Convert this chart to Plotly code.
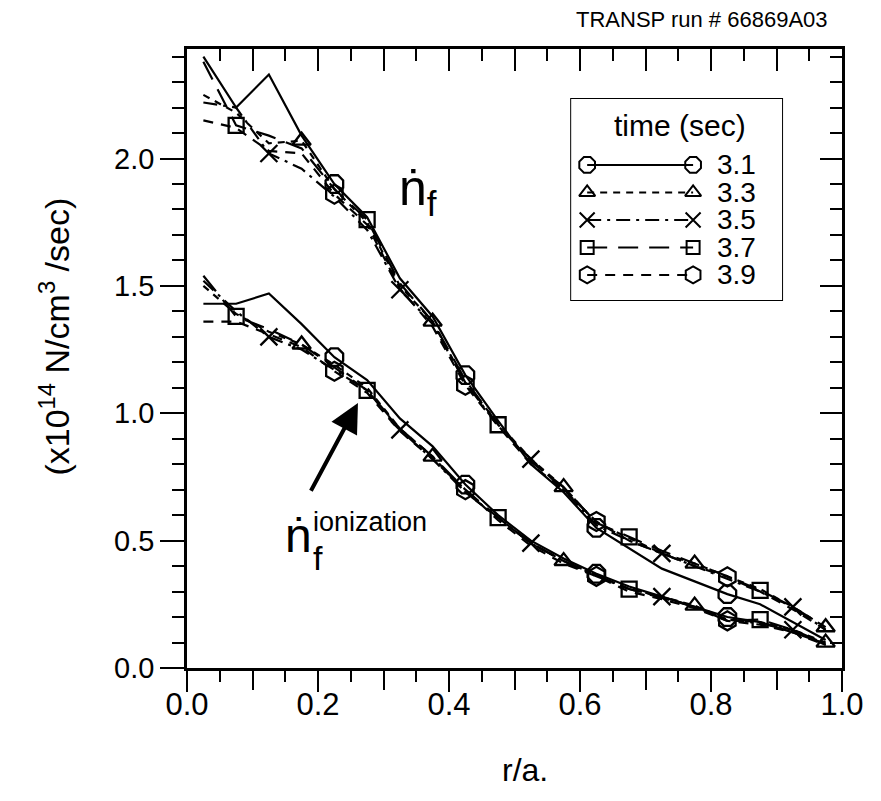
import plotly.graph_objects as go

# ---------------- data ----------------
r_over_a = [0.025, 0.075, 0.125, 0.175, 0.225, 0.275, 0.325, 0.375, 0.425, 0.475,
            0.525, 0.575, 0.625, 0.675, 0.725, 0.775, 0.825, 0.875, 0.925, 0.975]

times = ["3.1", "3.3", "3.5", "3.7", "3.9"]

# total fueling rate n_f  (x1e14 N/cm^3/sec)
nf_31 = [2.40, 2.20, 2.33, 2.09, 1.90, 1.77, 1.53, 1.38, 1.15, 0.97,
         0.80, 0.69, 0.55, 0.47, 0.39, 0.34, 0.29, 0.25, 0.18, 0.11]
nf_33 = [2.25, 2.18, 2.06, 2.07, 1.88, 1.75, 1.50, 1.36, 1.12, 0.96,
         0.82, 0.71, 0.57, 0.51, 0.45, 0.41, 0.36, 0.31, 0.24, 0.16]
nf_35 = [2.22, 2.20, 2.02, 1.96, 1.85, 1.72, 1.485, 1.35, 1.12, 0.95,
         0.82, 0.70, 0.56, 0.50, 0.45, 0.40, 0.35, 0.30, 0.24, 0.15]
nf_37 = [2.38, 2.13, 2.09, 2.04, 1.88, 1.76, 1.51, 1.36, 1.13, 0.955,
         0.81, 0.71, 0.57, 0.515, 0.46, 0.41, 0.36, 0.305, 0.24, 0.16]
nf_39 = [2.15, 2.12, 2.03, 2.02, 1.86, 1.74, 1.49, 1.34, 1.11, 0.95,
         0.80, 0.70, 0.575, 0.50, 0.45, 0.40, 0.358, 0.30, 0.23, 0.15]

# ionization part of n_f
ion_31 = [1.43, 1.43, 1.47, 1.35, 1.22, 1.13, 0.98, 0.87, 0.72, 0.60,
          0.50, 0.43, 0.37, 0.32, 0.28, 0.24, 0.20, 0.18, 0.14, 0.095]
ion_33 = [1.50, 1.39, 1.32, 1.27, 1.19, 1.10, 0.94, 0.83, 0.69, 0.59,
          0.49, 0.42, 0.365, 0.31, 0.28, 0.245, 0.19, 0.18, 0.15, 0.10]
ion_35 = [1.52, 1.40, 1.30, 1.25, 1.17, 1.09, 0.935, 0.82, 0.69, 0.59,
          0.49, 0.42, 0.36, 0.31, 0.28, 0.24, 0.19, 0.175, 0.15, 0.09]
ion_37 = [1.54, 1.38, 1.33, 1.27, 1.18, 1.09, 0.94, 0.83, 0.70, 0.59,
          0.49, 0.42, 0.365, 0.31, 0.275, 0.24, 0.185, 0.19, 0.15, 0.095]
ion_39 = [1.36, 1.36, 1.31, 1.26, 1.165, 1.08, 0.93, 0.82, 0.70, 0.58,
          0.48, 0.41, 0.36, 0.30, 0.27, 0.235, 0.185, 0.17, 0.14, 0.09]

x_label_vals = [0.0, 0.2, 0.4, 0.6, 0.8, 1.0]
x_label_text = ["0.0", "0.2", "0.4", "0.6", "0.8", "1.0"]
x_mid_vals = [0.1, 0.3, 0.5, 0.7, 0.9]
x_all_vals = [0.0, 0.1, 0.2, 0.3, 0.4, 0.5, 0.6, 0.7, 0.8, 0.9, 1.0]
y_tickvals = [0.0, 0.5, 1.0, 1.5, 2.0]
y_ticktext = ["0.0", "0.5", "1.0", "1.5", "2.0"]

# ---------------- styles ----------------
styles = {
    "3.1": dict(dash="solid", symbol="octagon-open", size=19, start=4),
    "3.3": dict(dash="7px,6px", symbol="triangle-up-open", size=16, start=3),
    "3.5": dict(dash="14px,6px,3px,6px", symbol="x-thin-open", size=17, start=2),
    "3.7": dict(dash="20px,11px", symbol="square-open", size=15, start=1),
    "3.9": dict(dash="10px,8px", symbol="hexagon-open", size=19, start=4),
}

groups = [
    dict(zip(times, [nf_31, nf_33, nf_35, nf_37, nf_39])),
    dict(zip(times, [ion_31, ion_33, ion_35, ion_37, ion_39])),
]

fig = go.Figure()
for grp in groups:
    for t in times:
        st = styles[t]
        ys = grp[t]
        fig.add_trace(go.Scatter(
            x=r_over_a, y=ys, mode="lines", showlegend=False,
            line=dict(color="black", width=2.2, dash=st["dash"]),
            hoverinfo="skip"))
        idx = list(range(st["start"], len(r_over_a), 4))
        fig.add_trace(go.Scatter(
            x=[r_over_a[i] for i in idx], y=[ys[i] for i in idx],
            mode="markers", showlegend=False,
            marker=dict(symbol=st["symbol"], size=st["size"], color="black",
                        line=dict(color="black", width=2.3)),
            hoverinfo="skip"))

# empty traces so the extra (mirror) axes exist
fig.add_trace(go.Scatter(x=[], y=[], xaxis="x2", yaxis="y2", showlegend=False))
fig.add_trace(go.Scatter(x=[], y=[], xaxis="x4", yaxis="y", showlegend=False))

# ---------------- custom legend (own little axes, pixel-like units) ----------------
LW, LH = 213, 203
row_y0, row_dy = 67, 27.5
for i, t in enumerate(times):
    st = styles[t]
    yy = row_y0 + i * row_dy
    fig.add_trace(go.Scatter(
        x=[17, 123], y=[yy, yy], xaxis="x3", yaxis="y3", mode="lines+markers",
        showlegend=False, hoverinfo="skip",
        line=dict(color="black", width=2, dash=st["dash"]),
        marker=dict(symbol=st["symbol"], size=st["size"] - 2, color="black",
                    line=dict(color="black", width=2))))
    fig.add_annotation(x=145, y=yy, xref="x3", yref="y3", text=t, showarrow=False,
                       xanchor="left", yanchor="middle",
                       font=dict(size=28, color="black", family="Liberation Sans, Arial"))
fig.add_annotation(x=LW / 2 + 3, y=28, xref="x3", yref="y3", text="time (sec)",
                   showarrow=False, xanchor="center", yanchor="middle",
                   font=dict(size=30, color="black", family="Liberation Sans, Arial"))
fig.add_shape(type="rect", xref="x3", yref="y3", x0=0, x1=LW, y0=0, y1=LH,
              line=dict(color="black", width=2))

FONT = "Liberation Sans, Arial, sans-serif"

TK = dict(tickwidth=2, tickcolor="black")
fig.update_layout(
    width=881, height=801, autosize=False,
    margin=dict(l=187, r=39, t=49, b=133),
    paper_bgcolor="white", plot_bgcolor="white",
    font=dict(family=FONT, color="black"),
    # bottom axis: labelled ticks every 0.2, minor every 0.05
    xaxis=dict(range=[0, 1], tickmode="array", tickvals=x_label_vals, ticktext=x_label_text,
               ticks="outside", ticklen=21, **TK,
               minor=dict(dtick=0.05, tick0=0, ticks="outside", ticklen=11, **TK),
               showline=True, linewidth=2.5, linecolor="black",
               showgrid=False, zeroline=False,
               tickfont=dict(size=31, family=FONT), ticklabelstandoff=-14),
    # bottom axis: long unlabelled ticks at the odd tenths
    xaxis4=dict(range=[0, 1], overlaying="x", side="bottom", anchor="y",
                tickmode="array", tickvals=x_mid_vals, showticklabels=False,
                ticks="outside", ticklen=21, **TK, showline=False,
                showgrid=False, zeroline=False),
    # top mirror axis
    xaxis2=dict(range=[0, 1], overlaying="x", side="top", anchor="y",
                tickmode="array", tickvals=x_all_vals, showticklabels=False,
                ticks="inside", ticklen=22, **TK,
                minor=dict(dtick=0.05, tick0=0, ticks="inside", ticklen=12, **TK),
                showline=True, linewidth=2.5, linecolor="black",
                showgrid=False, zeroline=False),
    yaxis=dict(range=[0, 2.43], tickmode="array", tickvals=y_tickvals, ticktext=y_ticktext,
               ticks="outside", ticklen=24, **TK,
               minor=dict(dtick=0.1, tick0=0, ticks="outside", ticklen=12, **TK),
               showline=True, linewidth=2.5, linecolor="black",
               showgrid=False, zeroline=False,
               tickfont=dict(size=29, family=FONT)),
    yaxis2=dict(range=[0, 2.43], overlaying="y", side="right", anchor="x",
                tickmode="array", tickvals=y_tickvals, showticklabels=False,
                ticks="inside", ticklen=22, **TK,
                minor=dict(dtick=0.1, tick0=0, ticks="inside", ticklen=12, **TK),
                showline=True, linewidth=2.5, linecolor="black",
                showgrid=False, zeroline=False),
    xaxis3=dict(domain=[0.585, 0.910], range=[0, LW], anchor="y3", visible=False,
                fixedrange=True),
    yaxis3=dict(domain=[0.593, 0.921], range=[LH, 0], anchor="x3", visible=False,
                fixedrange=True),
)

# ---------------- text annotations ----------------
fig.add_annotation(xref="paper", yref="paper", x=0.982, y=1.047,
                   text="TRANSP run # 66869A03", showarrow=False,
                   xanchor="right", yanchor="middle",
                   font=dict(size=22, family=FONT))
fig.add_annotation(xref="paper", yref="paper", x=-0.202, y=0.535,
                   text="(x10<sup>14</sup> N/cm<sup>3</sup> /sec)", showarrow=False,
                   textangle=-90, xanchor="center", yanchor="middle",
                   font=dict(size=34, family=FONT))
fig.add_annotation(xref="paper", yref="paper", x=0.516, y=-0.165,
                   text="r/a.", showarrow=False, xanchor="center", yanchor="middle",
                   font=dict(size=32, family=FONT))

# n_f label (upper curves)
fig.add_annotation(x=0.3206, y=1.87, xref="x", yref="y",
                   text="ṅ<sub>f</sub>", showarrow=False,
                   xanchor="left", yanchor="middle",
                   font=dict(size=50, family="Liberation Sans, DejaVu Sans"))
# n_f ionization label: n-dot, subscript f and superscript text placed separately
fig.add_annotation(x=0.1466, y=0.408, xref="x", yref="y",
                   text="ṅ", showarrow=False, xanchor="left", yanchor="bottom",
                   font=dict(size=48, family="Liberation Sans, DejaVu Sans"))
fig.add_annotation(x=0.190, y=0.349, xref="x", yref="y",
                   text="f", showarrow=False, xanchor="left", yanchor="bottom",
                   font=dict(size=34, family=FONT))
fig.add_annotation(x=0.190, y=0.506, xref="x", yref="y",
                   text="ionization", showarrow=False,
                   xanchor="left", yanchor="bottom",
                   font=dict(size=27, family=FONT))
# arrow
fig.add_annotation(x=0.261, y=1.04, ax=0.188, ay=0.69, xref="x", yref="y",
                   axref="x", ayref="y", text="", showarrow=True,
                   arrowhead=2, arrowsize=1.45, arrowwidth=4, arrowcolor="black")

fig.write_html("out.html")
